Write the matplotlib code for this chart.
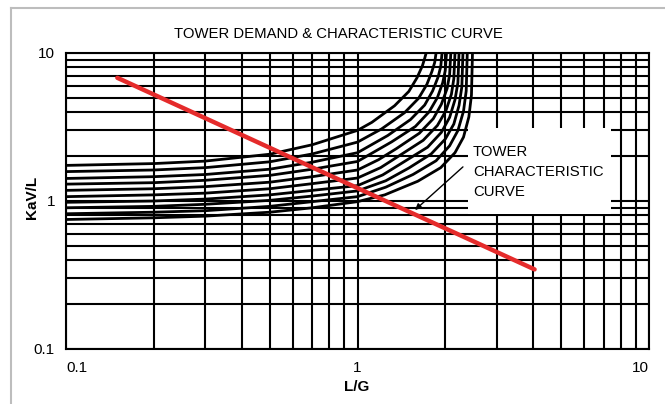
import matplotlib
matplotlib.use("Agg")
import matplotlib.pyplot as plt
from matplotlib.patches import Rectangle
from matplotlib.lines import Line2D

plt.rcParams['font.family'] = ['Liberation Sans', 'DejaVu Sans']

# ---------------- data ----------------
title = "TOWER DEMAND & CHARACTERISTIC CURVE"
x_label = "L/G"
y_label = "KaV/L"
x_ticks = [0.1, 1, 10]
x_tick_labels = ["0.1", "1", "10"]
y_ticks = [0.1, 1, 10]
y_tick_labels = ["0.1", "1", "10"]

# tower characteristic curves (L/G, KaV/L), top/left curve first
c0_x = [0.1, 0.2, 0.3, 0.5, 0.7, 1.0, 1.12, 1.34, 1.50, 1.60, 1.67, 1.70, 1.72]
c0_y = [1.74, 1.79, 1.86, 2.07, 2.40, 3.0, 3.4, 4.4, 5.5, 6.8, 8.2, 9.2, 10]
c1_x = [0.1, 0.2, 0.3, 0.5, 0.7, 1.0, 1.21, 1.45, 1.62, 1.73, 1.80, 1.84, 1.86]
c1_y = [1.58, 1.62, 1.68, 1.84, 2.08, 2.5, 3.07, 3.95, 4.94, 6.14, 7.5, 8.63, 10]
c2_x = [0.1, 0.2, 0.3, 0.5, 0.7, 1.0, 1.27, 1.52, 1.70, 1.81, 1.89, 1.93, 1.95]
c2_y = [1.42, 1.46, 1.51, 1.64, 1.83, 2.12, 2.77, 3.55, 4.45, 5.54, 6.88, 8.1, 10]
c3_x = [0.1, 0.2, 0.3, 0.5, 0.7, 1.0, 1.31, 1.58, 1.76, 1.88, 1.96, 2.00, 2.02]
c3_y = [1.30, 1.33, 1.38, 1.49, 1.64, 1.85, 2.51, 3.19, 4.0, 5.0, 6.29, 7.6, 10]
c4_x = [0.1, 0.2, 0.3, 0.5, 0.7, 1.0, 1.18, 1.36, 1.63, 1.82, 1.94, 2.03, 2.07, 2.09]
c4_y = [1.18, 1.21, 1.25, 1.34, 1.46, 1.62, 1.90, 2.26, 2.87, 3.6, 4.51, 5.76, 7.14, 10]
c5_x = [0.1, 0.2, 0.3, 0.5, 0.7, 1.0, 1.2, 1.40, 1.68, 1.88, 2.01, 2.10, 2.14, 2.16]
c5_y = [1.07, 1.10, 1.13, 1.21, 1.31, 1.43, 1.68, 2.04, 2.57, 3.24, 4.07, 5.27, 6.7, 10]
c6_x = [0.1, 0.2, 0.3, 0.5, 0.7, 1.0, 1.22, 1.45, 1.74, 1.94, 2.07, 2.16, 2.21, 2.23]
c6_y = [0.98, 1.00, 1.03, 1.10, 1.18, 1.27, 1.50, 1.85, 2.31, 2.91, 3.67, 4.83, 6.29, 10]
c7_x = [0.1, 0.2, 0.3, 0.5, 0.7, 1.0, 1.25, 1.50, 1.79, 2.00, 2.14, 2.23, 2.28, 2.30]
c7_y = [0.90, 0.92, 0.95, 1.01, 1.08, 1.17, 1.37, 1.67, 2.08, 2.62, 3.31, 4.42, 5.9, 10]
c8_x = [0.1, 0.2, 0.3, 0.5, 0.7, 1.0, 1.25, 1.55, 1.86, 2.07, 2.21, 2.31, 2.36, 2.38]
c8_y = [0.82, 0.84, 0.86, 0.92, 0.99, 1.07, 1.24, 1.51, 1.87, 2.36, 2.99, 4.04, 5.54, 10]
c9_x = [0.1, 0.2, 0.3, 0.5, 0.7, 1.0, 1.24, 1.61, 1.93, 2.16, 2.31, 2.41, 2.46, 2.48]
c9_y = [0.75, 0.77, 0.79, 0.84, 0.90, 0.99, 1.10, 1.36, 1.68, 2.12, 2.70, 3.70, 5.2, 10]

curves = [(c0_x, c0_y), (c1_x, c1_y), (c2_x, c2_y), (c3_x, c3_y), (c4_x, c4_y),
          (c5_x, c5_y), (c6_x, c6_y), (c7_x, c7_y), (c8_x, c8_y), (c9_x, c9_y)]

# tower demand line
demand_x = [0.15, 4.05]
demand_y = [6.8, 0.345]

# annotation
annot_lines = ["TOWER", "CHARACTERISTIC", "CURVE"]
arrow_start = (2.30, 1.70)
arrow_end = (1.575, 0.869)
box_x = [2.39, 7.41]
box_y = [0.817, 3.11]

# ---------------- figure ----------------
W, H = 665, 404
fig = plt.figure(figsize=(W / 100, H / 100), dpi=100)
ax = fig.add_axes([66 / W, 1 - 349 / H, (649 - 66) / W, (349 - 53) / H])
ax.set_xscale('log')
ax.set_yscale('log')
ax.set_xlim(0.1, 10)
ax.set_ylim(0.1, 10)

ax.set_axisbelow(True)
ax.grid(which='both', color='black', lw=1.5)
for s in ax.spines.values():
    s.set_color('black')
    s.set_linewidth(1.5)

ax.add_patch(Rectangle((box_x[0], box_y[0]), box_x[1] - box_x[0], box_y[1] - box_y[0],
                       facecolor='white', edgecolor='none', zorder=1))

for cx, cy in curves:
    ax.plot(cx, cy, color='black', lw=2.0, zorder=3, solid_capstyle='butt')

ax.plot(demand_x, demand_y, color='#e52b2b', lw=3.2, zorder=4, solid_capstyle='round')

ax.annotate("", xy=arrow_end, xytext=arrow_start,
            arrowprops=dict(arrowstyle='-|>', color='black', lw=1.0,
                            mutation_scale=9, shrinkA=0, shrinkB=0), zorder=5)

ax.set_xticks(x_ticks)
ax.set_xticklabels(x_tick_labels)
ax.set_yticks(y_ticks)
ax.set_yticklabels(y_tick_labels)
ax.xaxis.set_minor_formatter(plt.NullFormatter())
ax.yaxis.set_minor_formatter(plt.NullFormatter())
ax.tick_params(which='both', length=0)
ax.tick_params(axis='x', labelsize=11, pad=9)
ax.tick_params(axis='y', labelsize=11, pad=8)
xl = ax.get_xticklabels()
xl[0].set_ha('left')
xl[-1].set_ha('right')

fig.text(338 / W, 1 - 34 / H, title, ha='center', va='center', fontsize=10.7)
fig.text(357 / W, 1 - 387 / H, x_label, ha='center', va='center', fontsize=11, fontweight='bold')
fig.text(32 / W, 1 - 197 / H, y_label, ha='center', va='center', fontsize=11,
         fontweight='bold', rotation=90)

for i, t in enumerate(annot_lines):
    fig.text(473 / W, 1 - (152 + 20 * i) / H, t, ha='left', va='center', fontsize=10.7)

# outer frame
fig.add_artist(Line2D([11 / W, 1], [1 - 8 / H, 1 - 8 / H], color='#bdbdbd', lw=1.5,
                      transform=fig.transFigure))
fig.add_artist(Line2D([11 / W, 11 / W], [0, 1 - 8 / H], color='#bdbdbd', lw=1.5,
                      transform=fig.transFigure))

fig.savefig("out.png", dpi=100)
